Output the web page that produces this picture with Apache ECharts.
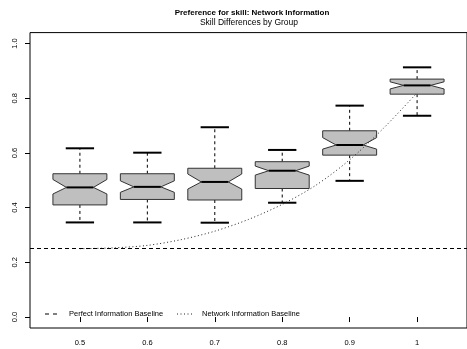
<!DOCTYPE html>
<html>
<head>
<meta charset="utf-8">
<script src="https://cdn.jsdelivr.net/npm/echarts@6/dist/echarts.min.js"></script>
<style>
html,body{margin:0;padding:0;background:#fff;}
#chart{width:467px;height:349px;}
</style>
</head>
<body>
<div id="chart"></div>
<script>
// ---- data ----
const skill = [0.5, 0.6, 0.7, 0.8, 0.9, 1.0];
const tickLabels = ['0.5', '0.6', '0.7', '0.8', '0.9', '1'];
const lowerWhisker = [0.346, 0.346, 0.345, 0.418, 0.498, 0.736];
const q1 = [0.410, 0.430, 0.428, 0.470, 0.592, 0.815];
const notchLow = [0.450, 0.456, 0.468, 0.519, 0.614, 0.834];
const median = [0.474, 0.476, 0.494, 0.535, 0.629, 0.847];
const notchHigh = [0.503, 0.498, 0.523, 0.552, 0.656, 0.860];
const q3 = [0.524, 0.524, 0.544, 0.568, 0.681, 0.870];
const upperWhisker = [0.617, 0.601, 0.694, 0.611, 0.773, 0.913];
const perfectBaseline = 0.25;
const networkX = [0.5, 0.55, 0.6, 0.65, 0.7, 0.75, 0.8, 0.85, 0.9, 0.95, 1.0];
const networkValues = [0.25, 0.253, 0.262, 0.283, 0.314, 0.357, 0.412, 0.482, 0.575, 0.69, 0.82];
const yTicks = [0, 0.2, 0.4, 0.6, 0.8, 1.0];
const titleText = 'Preference for skill: Network Information';
const subtitleText = 'Skill Differences by Group';
const legendNames = ['Perfect Information Baseline', 'Network Information Baseline'];

const FONT = '"Liberation Sans", Arial, Helvetica, sans-serif';
const boxData = skill.map((s, i) => [s, lowerWhisker[i], q1[i], notchLow[i], median[i], notchHigh[i], q3[i], upperWhisker[i]]);

function renderBox(params, api) {
  const x = api.value(0);
  const lw = api.value(1), a = api.value(2), nl = api.value(3), md = api.value(4), nh = api.value(5), b = api.value(6), uw = api.value(7);
  const hw = 0.04, nw = 0.02, cw = 0.021;
  const P = (dx, y) => api.coord([x + dx, y]);
  const poly = [P(-hw, a), P(hw, a), P(hw, nl), P(nw, md), P(hw, nh), P(hw, b), P(-hw, b), P(-hw, nh), P(-nw, md), P(-hw, nl)];
  const line = (p1, p2, style) => ({ type: 'line', shape: { x1: p1[0], y1: p1[1], x2: p2[0], y2: p2[1] }, style: style });
  const dashStyle = { stroke: '#000', lineWidth: 1, lineDash: [3, 3] };
  return {
    type: 'group',
    children: [
      line(P(0, b), P(0, uw), dashStyle),
      line(P(0, a), P(0, lw), dashStyle),
      line(P(-cw, uw), P(cw, uw), { stroke: '#000', lineWidth: 2 }),
      line(P(-cw, lw), P(cw, lw), { stroke: '#000', lineWidth: 2 }),
      { type: 'polygon', shape: { points: poly }, style: { fill: '#bfbfbf', stroke: '#333', lineWidth: 1 } },
      line(P(-nw, md), P(nw, md), { stroke: '#000', lineWidth: 2 })
    ]
  };
}

const chart = echarts.init(document.getElementById('chart'), null, { renderer: 'canvas' });
chart.setOption({
  animation: false,
  backgroundColor: '#fff',
  title: [
    { text: titleText, left: 252, top: 9, textAlign: 'center', padding: 0,
      textStyle: { fontFamily: FONT, fontSize: 8, fontWeight: 'bold', color: '#000' } },
    { text: subtitleText, left: 249, top: 18, textAlign: 'center', padding: 0,
      textStyle: { fontFamily: FONT, fontSize: 8.5, fontWeight: 'normal', color: '#000' } }
  ],
  grid: { left: 30, top: 32.6, width: 446, height: 295.4, show: true, borderColor: '#000', borderWidth: 1, backgroundColor: 'transparent' },
  xAxis: {
    type: 'value', min: 0.426, max: 1.074,
    splitLine: { show: false },
    axisLine: { show: false },
    axisTick: { show: true, customValues: skill, length: 5, lineStyle: { color: '#000' } },
    axisLabel: { customValues: skill, margin: 11, fontFamily: FONT, fontSize: 7.5, color: '#000',
      formatter: v => { const i = skill.findIndex(s => Math.abs(s - v) < 1e-6); return i >= 0 ? tickLabels[i] : ''; } }
  },
  yAxis: {
    type: 'value', min: -0.04, max: 1.04,
    splitLine: { show: false },
    axisLine: { show: false },
    axisTick: { show: true, customValues: yTicks, length: 5, lineStyle: { color: '#000' } },
    axisLabel: { customValues: yTicks, rotate: 90, margin: 11, fontFamily: FONT, fontSize: 7.5, color: '#000',
      formatter: v => v.toFixed(1) }
  },
  series: [
    {
      name: legendNames[0], type: 'line', data: [], silent: true,
      markLine: { silent: true, symbol: 'none', label: { show: false },
        lineStyle: { color: '#000', width: 1, type: [4, 3] },
        data: [{ yAxis: perfectBaseline }] }
    },
    {
      name: legendNames[1], type: 'line', silent: true, symbol: 'none', smooth: 0.3,
      data: networkX.map((x, i) => [x, networkValues[i]]),
      lineStyle: { color: '#222', width: 1, type: [1, 2.5] }
    },
    { type: 'custom', renderItem: renderBox, data: boxData, silent: true, z: 3 }
  ],
  graphic: [
    { type: 'line', shape: { x1: 45, y1: 314, x2: 57, y2: 314 }, style: { stroke: '#000', lineWidth: 1, lineDash: [4, 4] } },
    { type: 'text', left: 69, top: 310, style: { text: legendNames[0], font: '7.5px ' + FONT, fill: '#000' } },
    { type: 'line', shape: { x1: 177, y1: 314, x2: 193, y2: 314 }, style: { stroke: '#222', lineWidth: 1, lineDash: [1, 2.5] } },
    { type: 'text', left: 202, top: 310, style: { text: legendNames[1], font: '7.5px ' + FONT, fill: '#000' } }
  ]
});
</script>
</body>
</html>
